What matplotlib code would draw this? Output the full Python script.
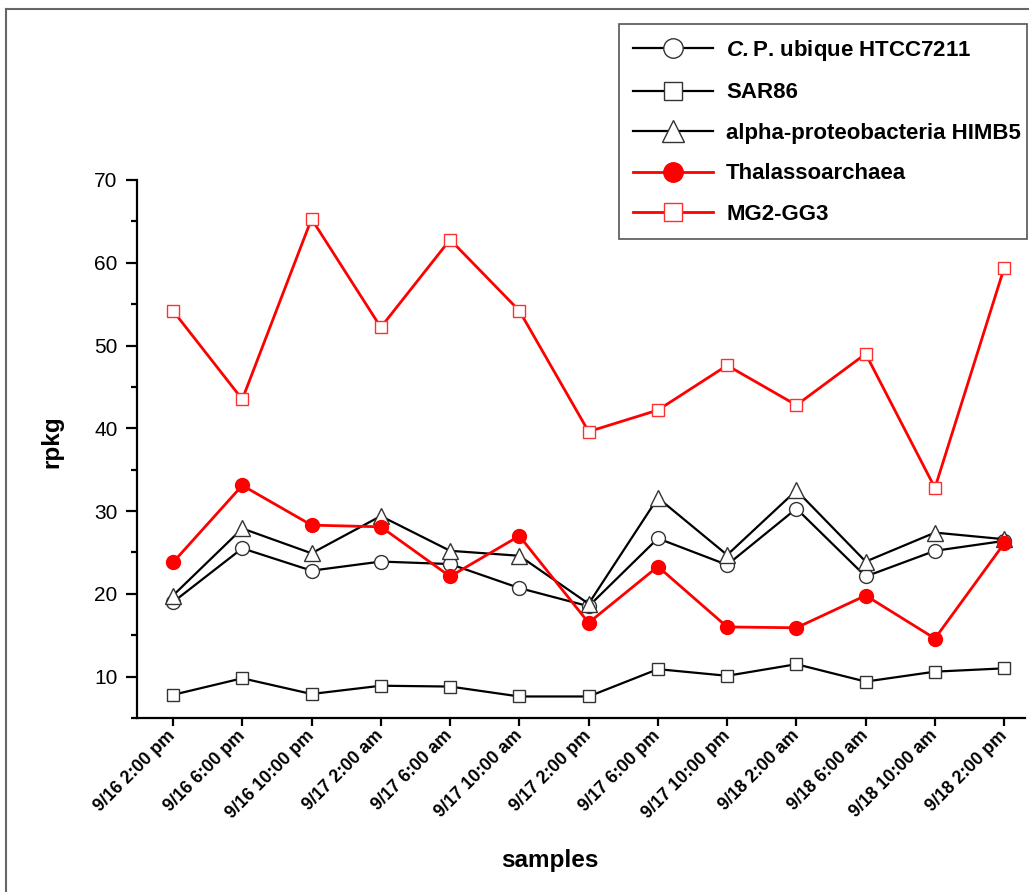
import matplotlib
matplotlib.use("Agg")
import matplotlib.pyplot as plt
from matplotlib.lines import Line2D
from matplotlib.ticker import MultipleLocator
import numpy as np

samples = ["9/16 2:00 pm", "9/16 6:00 pm", "9/16 10:00 pm", "9/17 2:00 am",
           "9/17 6:00 am", "9/17 10:00 am", "9/17 2:00 pm", "9/17 6:00 pm",
           "9/17 10:00 pm", "9/18 2:00 am", "9/18 6:00 am", "9/18 10:00 am",
           "9/18 2:00 pm"]

pelagibacter = [19.0, 25.5, 22.8, 23.9, 23.6, 20.7, 18.5, 26.7, 23.5, 30.3, 22.1, 25.2, 26.4]
sar86 = [7.8, 9.8, 7.9, 8.9, 8.8, 7.6, 7.6, 10.9, 10.1, 11.5, 9.4, 10.6, 11.0]
himb5 = [19.8, 27.9, 24.9, 29.4, 25.2, 24.6, 18.8, 31.6, 24.7, 32.5, 23.9, 27.4, 26.6]
thalasso = [23.8, 33.1, 28.3, 28.1, 22.1, 27.0, 16.5, 23.3, 16.0, 15.9, 19.8, 14.6, 26.1]
mg2 = [54.2, 43.5, 65.3, 52.2, 62.8, 54.2, 39.6, 42.2, 47.6, 42.8, 49.0, 32.8, 59.4]

plt.rcParams["font.family"] = "Liberation Sans"
plt.rcParams["mathtext.fontset"] = "custom"
plt.rcParams["mathtext.bfit"] = "Liberation Sans:italic:bold"
plt.rcParams["mathtext.bf"] = "Liberation Sans:bold"
plt.rcParams["mathtext.rm"] = "Liberation Sans"

fig = plt.figure(figsize=(10.29, 8.92), dpi=100)
ax = fig.add_axes([137 / 1029, 1 - 718 / 892, (1025 - 137) / 1029, (718 - 180) / 892])
ax.patch.set_alpha(0)

x = np.arange(len(samples))
black_mk = dict(markerfacecolor="white", markeredgecolor="#333333", markeredgewidth=1.0)
ax.plot(x, pelagibacter, color="black", lw=1.6, marker="o", ms=10, label=r"$\mathbfit{C.}$P. ubique HTCC7211", **black_mk)
ax.plot(x, sar86, color="black", lw=1.6, marker="s", ms=9, label="SAR86", **black_mk)
ax.plot(x, himb5, color="black", lw=1.6, marker="^", ms=11, label="alpha-proteobacteria HIMB5", **black_mk)
ax.plot(x, thalasso, color="#ff0000", lw=2.0, marker="o", ms=10, markeredgecolor="#ff0000",
        markerfacecolor="#ff0000", label="Thalassoarchaea")
ax.plot(x, mg2, color="#ff0000", lw=2.0, marker="s", ms=9, markeredgecolor="#ff3030",
        markerfacecolor="white", markeredgewidth=1.0, label="MG2-GG3")

ax.set_xlim(-0.52, 12.3)
ax.set_ylim(5, 70)
ax.yaxis.set_minor_locator(MultipleLocator(5))
ax.set_yticks([10, 20, 30, 40, 50, 60, 70])
ax.set_xticks(x)
ax.set_xticklabels(samples, rotation=45, ha="right", va="center", rotation_mode="anchor",
                   fontsize=12.8, fontweight="bold")
for s in ("top", "right"):
    ax.spines[s].set_visible(False)
for s in ("left", "bottom"):
    ax.spines[s].set_linewidth(1.6)
ax.tick_params(axis="y", which="major", direction="out", length=8, width=1.6, labelsize=15, pad=6)
ax.tick_params(axis="y", which="minor", direction="out", length=4, width=1.6)
ax.tick_params(axis="x", which="major", direction="out", length=6, width=1.6, pad=5)

fig.text(52 / 1029, 1 - 442 / 892, "rpkg", rotation=90, ha="center", va="center",
         fontsize=17.5, fontweight="bold")
fig.text(550 / 1029, 1 - 860 / 892, "samples", ha="center", va="center",
         fontsize=17.5, fontweight="bold")

leg = fig.legend(loc="upper left",
                 bbox_to_anchor=(619 / 1029, 1 - 238 / 892, (1027 - 619) / 1029, 214 / 892),
                 mode="expand",
                 prop={"weight": "bold", "size": 16},
                 frameon=True, fancybox=False, edgecolor="#555555", framealpha=1,
                 handlelength=3.6, handletextpad=0.6, labelspacing=0.88,
                 borderpad=0.62, markerscale=1.4, borderaxespad=0)
leg.get_frame().set_linewidth(1.2)

fig.add_artist(Line2D([6 / 1029, 6 / 1029], [0, 1 - 9 / 892], color="#666666", lw=1.5))
fig.add_artist(Line2D([6 / 1029, 1], [1 - 9 / 892, 1 - 9 / 892], color="#666666", lw=1.5))

fig.savefig("out.png", dpi=100)
